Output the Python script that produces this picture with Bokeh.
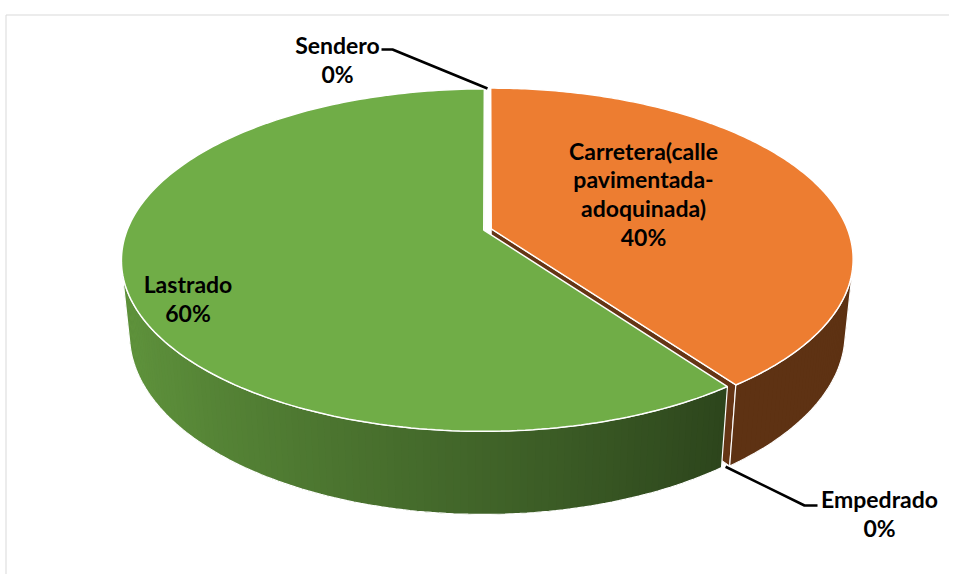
import numpy as np
from bokeh.plotting import figure
from bokeh.models import Range1d
from bokeh.core.properties import value
from bokeh.embed import file_html
from bokeh.resources import INLINE

# ---------------- data ----------------
categories = ["Carretera(calle pavimentada-adoquinada)", "Empedrado", "Lastrado", "Sendero"]
values = [40, 0, 60, 0]
label_lines = [["Carretera(calle", "pavimentada-", "adoquinada)"], ["Empedrado"], ["Lastrado"], ["Sendero"]]
slice_colors = ["#ED7D31", "#A5A5A5", "#70AD47", "#FFC000"]

# ---------------- layout (image pixel coordinates) ----------------
W, H_PX = 949, 574
CX, CY = 487.0, 229.0
SIN_PHI = 0.465
PHI = np.arcsin(SIN_PHI)
DIST = 5.047
FOC = 1798.8
THICK = 0.2366
EXPLODE = 0.011

label_pos = [  # (x, first line y, line spacing)
    (643, 150, 28.8),
    (879, 498, 29),
    (187.5, 283, 29.5),
    (337, 44, 29),
]
leader_pts = {
    1: [(804, 505), (817, 505)],   # Empedrado (from pie outward)
    3: [(392, 49), (381, 49)],     # Sendero
}


def proj(x, y, z):
    s, c = np.sin(PHI), np.cos(PHI)
    depth = DIST + y * c - z * s
    ys = y * s + z * c
    return CX + FOC * x / depth, CY - FOC * ys / depth


def hex_to_rgb(h):
    h = h.lstrip("#")
    return np.array([int(h[i:i + 2], 16) for i in (0, 2, 4)], dtype=float)


def shade(hexcol, f):
    r = np.clip(hex_to_rgb(hexcol) * f, 0, 255).astype(int)
    return "#%02x%02x%02x" % tuple(r)


def wall_factor(t_deg):
    return float(np.interp(t_deg, [-170, -140, -120, -90, -70, -54, 0],
                           [0.88, 0.80, 0.72, 0.58, 0.48, 0.40, 0.40]))


p = figure(width=W, height=H_PX, x_range=Range1d(0, W), y_range=Range1d(H_PX, 0),
           output_backend="svg", toolbar_location=None, min_border=0,
           outline_line_color=None, background_fill_color="white")
p.axis.visible = False
p.grid.visible = False

# chart-area border
p.line(x=[5.5, 5.5, W + 5], y=[H_PX + 5, 14.5, 14.5], line_color="#D9D9D9", line_width=1)

total = float(sum(values))
alpha = np.degrees(np.arcsin(1.0 / (DIST * np.cos(PHI))))

slices = []
cum = 0.0
for i, v in enumerate(values):
    a0 = 90.0 - cum / total * 360.0
    a1 = a0 - v / total * 360.0
    cum += v
    bm = np.radians((a0 + a1) / 2.0)
    off = (EXPLODE * np.cos(bm), EXPLODE * np.sin(bm)) if v > 0 else (0.0, 0.0)
    slices.append((a0, a1, off))

# radial (cut) faces visible to the viewer
face_xs, face_ys, face_cols = [], [], []
for i, (a0, a1, off) in enumerate(slices):
    if values[i] <= 0:
        continue
    t = np.radians(a1)
    ox, oy = off
    rx, ry = ox + np.cos(t), oy + np.sin(t)
    pts = [proj(ox, oy, 0), proj(rx, ry, 0), proj(rx, ry, -THICK), proj(ox, oy, -THICK)]
    face_xs.append([q[0] for q in pts])
    face_ys.append([q[1] for q in pts])
    face_cols.append(shade(slice_colors[i], 0.43))
p.patches(face_xs, face_ys, fill_color=face_cols, line_color="white", line_width=1)

# outer walls (front half), drawn as shaded strips over a solid base
for i, (a0, a1, off) in enumerate(slices):
    if values[i] <= 0:
        continue
    ox, oy = off
    for k in (0, -360):
        lo = max(a1, -180 + alpha + k)
        hi = min(a0, -alpha + k)
        if hi <= lo:
            continue
        n = max(4, int((hi - lo) / 1.0))
        ts = np.linspace(lo, hi, n + 1)
        tt = np.radians(ts)
        top = [proj(ox + np.cos(a), oy + np.sin(a), 0) for a in tt]
        bot = [proj(ox + np.cos(a), oy + np.sin(a), -THICK) for a in tt[::-1]]
        ring = top + bot + [top[0]]
        base = shade(slice_colors[i], wall_factor((lo + hi) / 2.0 - k))
        p.patch([a[0] for a in ring], [a[1] for a in ring], fill_color=base, line_color=None)
        xs, ys, cols = [], [], []
        for j in range(n):
            t1, t2 = tt[j], np.radians(min(ts[j + 1] + 0.4, hi))
            q = [proj(ox + np.cos(t1), oy + np.sin(t1), 0), proj(ox + np.cos(t2), oy + np.sin(t2), 0),
                 proj(ox + np.cos(t2), oy + np.sin(t2), -THICK), proj(ox + np.cos(t1), oy + np.sin(t1), -THICK)]
            xs.append([a[0] for a in q])
            ys.append([a[1] for a in q])
            cols.append(shade(slice_colors[i], wall_factor((ts[j] + ts[j + 1]) / 2.0 - k)))
        p.patches(xs, ys, fill_color=cols, line_color=None)
        p.line([a[0] for a in ring], [a[1] for a in ring], line_color="white", line_width=1.2)

# top faces
for i, (a0, a1, off) in enumerate(slices):
    if values[i] <= 0:
        continue
    ox, oy = off
    ts = np.radians(np.linspace(a0, a1, 200))
    pts = [proj(ox, oy, 0)] + [proj(ox + np.cos(a), oy + np.sin(a), 0) for a in ts]
    p.patch([q[0] for q in pts], [q[1] for q in pts], fill_color=slice_colors[i],
            line_color="white", line_width=1.5)

# leader lines for zero slices
for i, pts in leader_pts.items():
    a0, a1, off = slices[i]
    t = np.radians(a0)
    z = 0.0 if np.sin(t) > 0 else -THICK
    anchor = proj(np.cos(t), np.sin(t), z)
    line = [anchor] + pts
    p.line([q[0] for q in line], [q[1] for q in line], line_color="black", line_width=2.6)

# labels
lx, ly, lt = [], [], []
for i, cat in enumerate(categories):
    pct = "%d%%" % round(values[i] / total * 100)
    lines = label_lines[i] + [pct]
    x0, y0, dy = label_pos[i]
    for j, s in enumerate(lines):
        lx.append(x0)
        ly.append(y0 + j * dy)
        lt.append(s)
p.text(x=lx, y=ly, text=lt, text_font=value("Lato"), text_font_style="bold",
       text_font_size="23px", text_align="center", text_baseline="middle", text_color="black")

open("out.html", "w").write(file_html(p, INLINE))
